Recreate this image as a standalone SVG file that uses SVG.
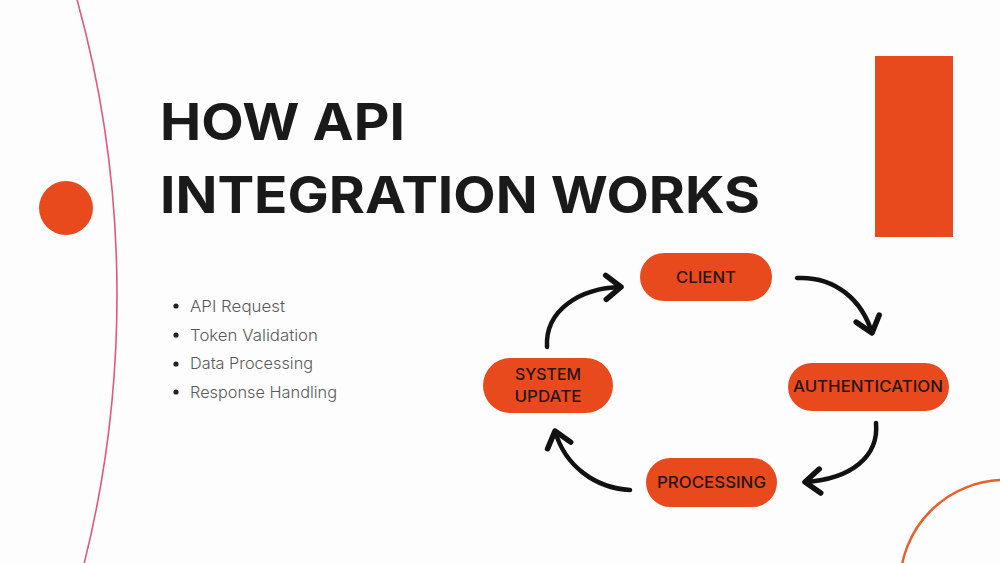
<svg xmlns="http://www.w3.org/2000/svg" width="1000" height="563" viewBox="0 0 1000 563">
  <defs>
    <style>
      .title { font-family: Inter, "Liberation Sans", sans-serif; font-weight: 700; font-size: 51px; fill: #1a1a1a; }
      .bullet { font-family: Inter, "Liberation Sans", sans-serif; font-weight: 300; font-size: 16.5px; fill: #5a5a5a; }
      .pill { fill: #E84A1E; }
      .label { font-family: Inter, "Liberation Sans", sans-serif; font-weight: 500; font-size: 15.5px; fill: #2a1410; text-anchor: middle; }
      .conn { fill: none; stroke: #111; stroke-width: 4.5; stroke-linecap: round; marker-end: url(#chev); }
    </style>
    <marker id="chev" markerUnits="userSpaceOnUse" markerWidth="40" markerHeight="40" viewBox="-20 -20 40 40" refX="0" refY="0" orient="auto" overflow="visible">
      <path d="M-15,-12 L0,0 L-15,12" fill="none" stroke="#111" stroke-width="5.5" stroke-linecap="round" stroke-linejoin="round"/>
    </marker>
  </defs>
  <rect width="1000" height="563" fill="#fdfdfd"/>

  <g id="decor">
    <circle cx="-991" cy="295" r="1108" fill="none" stroke="#de5a78" stroke-width="1.6"/>
    <circle cx="66" cy="208" r="27" fill="#E84A1E"/>
    <rect x="875" y="56" width="78" height="181" fill="#E84A1E"/>
    <circle cx="1005" cy="585" r="105" fill="none" stroke="#E8602E" stroke-width="2.5"/>
  </g>

  <g id="title">
    <text class="title" x="160" y="140" textLength="245" lengthAdjust="spacingAndGlyphs">HOW API</text>
    <text class="title" x="160" y="213" textLength="600" lengthAdjust="spacingAndGlyphs">INTEGRATION WORKS</text>
  </g>

  <g id="bullets">
    <circle cx="176" cy="306" r="2.6" fill="#222"/>
    <circle cx="176" cy="335" r="2.6" fill="#222"/>
    <circle cx="176" cy="364" r="2.6" fill="#222"/>
    <circle cx="176" cy="392" r="2.6" fill="#222"/>
    <text class="bullet" x="190" y="312" textLength="95" lengthAdjust="spacingAndGlyphs">API Request</text>
    <text class="bullet" x="190" y="341" textLength="128" lengthAdjust="spacingAndGlyphs">Token Validation</text>
    <text class="bullet" x="190" y="369" textLength="123" lengthAdjust="spacingAndGlyphs">Data Processing</text>
    <text class="bullet" x="190" y="398" textLength="147" lengthAdjust="spacingAndGlyphs">Response Handling</text>
  </g>

  <g id="connectors">
    <path class="conn" d="M797,278 C835,276 862,300 872,333"/>
    <path class="conn" d="M876,423 C879,456 852,479 805,482"/>
    <path class="conn" d="M630,490 C595,488 565,466 555,431"/>
    <path class="conn" d="M547,347 C545,310 580,288 621,287"/>
  </g>

  <g id="node-client">
    <rect class="pill" x="640" y="253" width="132" height="48" rx="24"/>
    <text class="label" x="706" y="283" textLength="60" lengthAdjust="spacingAndGlyphs">CLIENT</text>
  </g>
  <g id="node-authentication">
    <rect class="pill" x="788" y="363" width="161" height="48" rx="24"/>
    <text class="label" x="868" y="392" textLength="150" lengthAdjust="spacingAndGlyphs">AUTHENTICATION</text>
  </g>
  <g id="node-processing">
    <rect class="pill" x="646" y="458" width="131" height="49" rx="24.5"/>
    <text class="label" x="711.5" y="488" textLength="109" lengthAdjust="spacingAndGlyphs">PROCESSING</text>
  </g>
  <g id="node-system-update">
    <rect class="pill" x="483" y="358" width="130" height="55" rx="27.5"/>
    <text class="label" x="548" y="380" textLength="66" lengthAdjust="spacingAndGlyphs">SYSTEM</text>
    <text class="label" x="548" y="402" textLength="67" lengthAdjust="spacingAndGlyphs">UPDATE</text>
  </g>
</svg>
